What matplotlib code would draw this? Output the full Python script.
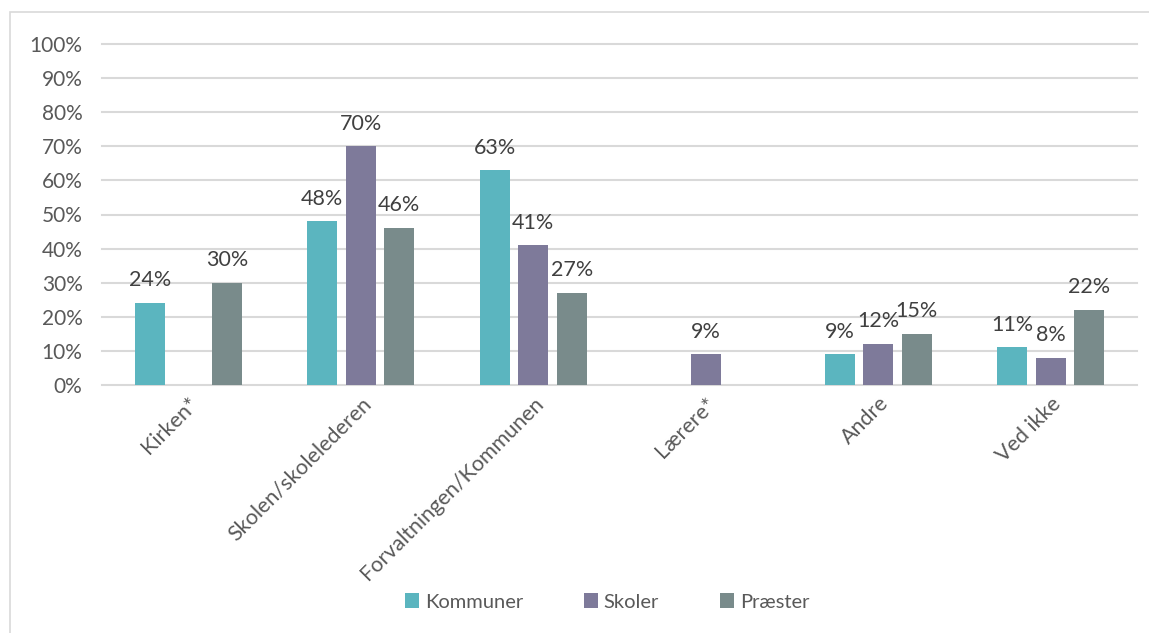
import numpy as np
import matplotlib.pyplot as plt
from matplotlib.patches import Rectangle

# --- data ---
categories = ['Kirken*', 'Skolen/skolelederen', 'Forvaltningen/Kommunen',
              'Lærere*', 'Andre', 'Ved ikke']
series_names = ['Kommuner', 'Skoler', 'Præster']
kommuner = [24, 48, 63, np.nan, 9, 11]
skoler = [np.nan, 70, 41, 9, 12, 8]
praester = [30, 46, 27, np.nan, 15, 22]
y_ticks = [0, 10, 20, 30, 40, 50, 60, 70, 80, 90, 100]

colors = ['#5BB5BF', '#7E7A9A', '#798B8B']
text_col = '#595959'
grid_col = '#D9D9D9'

plt.rcParams['font.family'] = ['Lato', 'DejaVu Sans']

W, H = 1149, 633
fig = plt.figure(figsize=(W / 100, H / 100), dpi=100)

# chart frame (cropped on top/right/bottom in the reference)
fig.patches.append(Rectangle((10 / W, -0.1), 2.0, 1.1 - 12 / H, transform=fig.transFigure,
                             fill=False, edgecolor=grid_col, linewidth=1.2))

ax = fig.add_axes([102 / W, 1 - 385 / H, (1137 - 102) / W, (385 - 44) / H])

x = np.arange(len(categories))
bar_w = 0.174
step = 0.2235
for i, (vals, name) in enumerate(zip([kommuner, skoler, praester], series_names)):
    pos = x + (i - 1) * step
    v = np.array(vals, dtype=float)
    ax.bar(pos, v, width=bar_w, color=colors[i], label=name, zorder=3)
    for p, val in zip(pos, v):
        if np.isnan(val):
            continue
        ax.annotate(f'{val:.0f}%', (p, val), xytext=(0, 12), textcoords='offset points',
                    ha='center', va='baseline', fontsize=15.5, color='#404040')

ax.set_xlim(-0.5, len(categories) - 0.5)
ax.set_ylim(0, 100)
ax.set_yticks(y_ticks)
ax.set_yticklabels([f'{t}%' for t in y_ticks])
ax.set_xticks(x)
ax.set_xticklabels(categories, rotation=45, ha='right', rotation_mode='anchor')
ax.tick_params(axis='y', length=0, labelsize=15, labelcolor=text_col, pad=14)
ax.tick_params(axis='x', length=0, labelsize=15.5, labelcolor=text_col, pad=6)
ax.grid(axis='y', color=grid_col, linewidth=1.5, zorder=0)
for gl in ax.get_ygridlines():
    gl.set_clip_on(False)
for s in ax.spines.values():
    s.set_visible(False)

fig.legend(loc='center', bbox_to_anchor=(607 / W, 1 - 602 / H), ncol=3, frameon=False,
           fontsize=14.5, labelcolor=text_col, handlelength=0.7, handleheight=0.7,
           handletextpad=0.3, columnspacing=3.0)

fig.savefig('out.png', dpi=100)
